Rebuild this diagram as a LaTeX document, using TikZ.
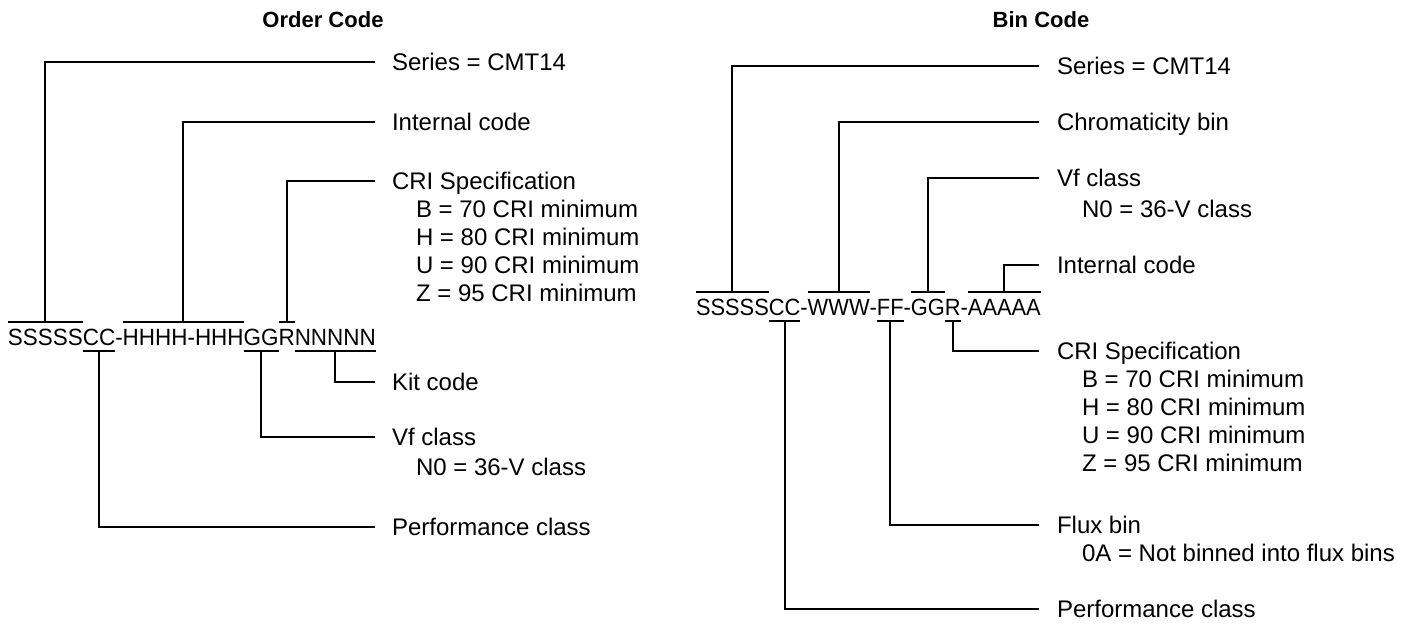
\documentclass[tikz,border=0pt]{standalone}
\usepackage{fontspec}
\setmainfont{Liberation Sans}
\newfontfamily\codefamily[FakeStretch=0.955]{Liberation Sans}
\newfontfamily\codefamilyR[FakeStretch=0.93]{Liberation Sans}
\newcommand\lblfont{\fontsize{24}{28}\selectfont}
\newcommand\cdfont{\codefamily\fontsize{23.5}{28}\selectfont}
\newcommand\cdfontR{\codefamilyR\fontsize{23.5}{28}\selectfont}
\newcommand\ttlfont{\bfseries\fontsize{22}{26}\selectfont}
\begin{document}
\begin{tikzpicture}[x=1pt,y=-1pt,
  code/.style={font=\cdfont, inner sep=0pt, outer sep=0pt, anchor=base west},
  coder/.style={font=\cdfontR, inner sep=0pt, outer sep=0pt, anchor=base west},
  lbl/.style={font=\lblfont, inner sep=0pt, outer sep=0pt, anchor=base west},
  ttl/.style={font=\ttlfont, inner sep=0pt, anchor=base},
  conn/.style={line width=2pt, line join=miter},
  bar/.style={line width=2pt}]
\useasboundingbox (0,0) rectangle (1411,626);
\def\ov{23pt}
\def\un{-6pt}
% ---------- titles
\node[ttl] (t1) at (323,28) {Order Code};
\node[ttl] (t2) at (1041,28) {Bin Code};
% ---------- left code string
\node[code] (Ls) at (8,345) {SSSSS};
\node[code] (Lc) at (Ls.base east) {CC};
\node[code] (Ld1) at (Lc.base east) {-};
\node[code] (Lh) at (Ld1.base east) {HHHH-HHH};
\node[code] (Lg) at (Lh.base east) {GG};
\node[code] (Lr) at (Lg.base east) {R};
\node[code] (Ln) at (Lr.base east) {NNNNN};
\foreach \n in {Ls,Lh,Lr}
  \draw[bar] ([yshift=\ov]\n.base west) -- ([yshift=\ov]\n.base east);
\foreach \n in {Lc,Lg,Ln}
  \draw[bar] ([yshift=\un]\n.base west) -- ([yshift=\un]\n.base east);
% left label ends
\coordinate (LeSer) at (375,62);
\coordinate (LeInt) at (375,122);
\coordinate (LeCri) at (375,181);
\coordinate (LeKit) at (375,382);
\coordinate (LeVf) at (375,437);
\coordinate (LePerf) at (375,527);
\draw[conn] ([yshift=\ov]Ls.base) |- (LeSer);
\draw[conn] ([yshift=\ov]Lh.base) |- (LeInt);
\draw[conn] ([yshift=\ov]Lr.base) |- (LeCri);
\draw[conn] ([yshift=\un]Ln.base) |- (LeKit);
\draw[conn] ([yshift=\un]Lg.base) |- (LeVf);
\draw[conn] ([yshift=\un]Lc.base) |- (LePerf);
% left labels
\node[lbl] (LtSer) at (392,70.6) {Series = CMT14};
\node[lbl] (LtInt) at (392,130.6) {Internal code};
\node[lbl] (LtCri) at (392,189.6) {CRI Specification};
\node[lbl] (LtCriB) at (416,217.6) {B = 70 CRI minimum};
\node[lbl] (LtCriH) at (416,245.6) {H = 80 CRI minimum};
\node[lbl] (LtCriU) at (416,273.6) {U = 90 CRI minimum};
\node[lbl] (LtCriZ) at (416,301.6) {Z = 95 CRI minimum};
\node[lbl] (LtKit) at (392,390.6) {Kit code};
\node[lbl] (LtVf) at (392,445.6) {Vf class};
\node[lbl] (LtVfN) at (416,475.6) {N0 = 36-V class};
\node[lbl] (LtPerf) at (392,535.6) {Performance class};
% ---------- right code string
\node[coder] (Rs) at (696,315) {SSSSS};
\node[coder] (Rc) at (Rs.base east) {CC};
\node[coder] (Rd1) at (Rc.base east) {-};
\node[coder] (Rw) at (Rd1.base east) {WWW};
\node[coder] (Rd2) at (Rw.base east) {-};
\node[coder] (Rf) at (Rd2.base east) {FF};
\node[coder] (Rd3) at (Rf.base east) {-};
\node[coder] (Rg) at (Rd3.base east) {GG};
\node[coder] (Rr) at (Rg.base east) {R};
\node[coder] (Rd4) at (Rr.base east) {-};
\node[coder] (Ra) at (Rd4.base east) {AAAAA};
\foreach \n in {Rs,Rw,Rg,Ra}
  \draw[bar] ([yshift=\ov]\n.base west) -- ([yshift=\ov]\n.base east);
\foreach \n in {Rc,Rf,Rr}
  \draw[bar] ([yshift=\un]\n.base west) -- ([yshift=\un]\n.base east);
% right label ends
\coordinate (ReSer) at (1039,66);
\coordinate (ReChr) at (1039,122);
\coordinate (ReVf) at (1039,178);
\coordinate (ReInt) at (1039,265);
\coordinate (ReCri) at (1039,351);
\coordinate (ReFlux) at (1039,525);
\coordinate (RePerf) at (1039,609);
\draw[conn] ([yshift=\ov]Rs.base) |- (ReSer);
\draw[conn] ([yshift=\ov]Rw.base) |- (ReChr);
\draw[conn] ([yshift=\ov]Rg.base) |- (ReVf);
\draw[conn] ([yshift=\ov]Ra.base) |- (ReInt);
\draw[conn] ([yshift=\un]Rr.base) |- (ReCri);
\draw[conn] ([yshift=\un]Rf.base) |- (ReFlux);
\draw[conn] ([yshift=\un]Rc.base) |- (RePerf);
% right labels
\node[lbl] (RtSer) at (1057,74.6) {Series = CMT14};
\node[lbl] (RtChr) at (1057,130.6) {Chromaticity bin};
\node[lbl] (RtVf) at (1057,186.6) {Vf class};
\node[lbl] (RtVfN) at (1082,217.6) {N0 = 36-V class};
\node[lbl] (RtInt) at (1057,273.6) {Internal code};
\node[lbl] (RtCri) at (1057,359.6) {CRI Specification};
\node[lbl] (RtCriB) at (1082,387.6) {B = 70 CRI minimum};
\node[lbl] (RtCriH) at (1082,415.6) {H = 80 CRI minimum};
\node[lbl] (RtCriU) at (1082,443.6) {U = 90 CRI minimum};
\node[lbl] (RtCriZ) at (1082,471.6) {Z = 95 CRI minimum};
\node[lbl] (RtFlux) at (1057,533.6) {Flux bin};
\node[lbl] (RtFluxA) at (1082,561.6) {0A = Not binned into flux bins};
\node[lbl] (RtPerf) at (1057,617.6) {Performance class};
\end{tikzpicture}
\end{document}
